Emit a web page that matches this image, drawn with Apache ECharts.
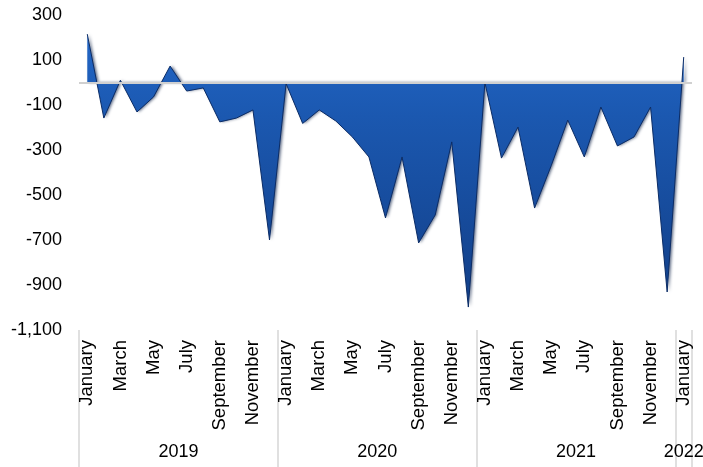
<!DOCTYPE html>
<html>
<head>
<meta charset="utf-8">
<script src="https://cdn.jsdelivr.net/npm/echarts@6/dist/echarts.min.js"></script>
<style>
    html, body { margin: 0; padding: 0; background: #fff; }
    #chart { width: 703px; height: 467px; }
</style>
</head>
<body>
<div id="chart"></div>
<script>
    // monthly values, one array per year
    let years = ['2019', '2020', '2021', '2022'];
    let monthNames = ['January', 'February', 'March', 'April', 'May', 'June',
        'July', 'August', 'September', 'October', 'November', 'December'];
    let values2019 = [215, -158, 10, -131, -64, 73, -38, -24, -175, -158, -122, -700];
    let values2020 = [-5, -182, -122, -171, -242, -331, -602, -331, -713, -589, -264, -998];
    let values2021 = [0, -336, -198, -558, -370, -167, -331, -109, -282, -242, -109, -931];
    let values2022 = [113];
    let yTicks = { min: -1100, max: 300, step: 200 };

    let perYear = [values2019, values2020, values2021, values2022];
    let months = [];
    let values = [];
    let yearCenters = [];
    let yearBounds = [0];
    let yearAt = {};
    let pos = 0;
    for (let i = 0; i < perYear.length; i++) {
        let c = pos + perYear[i].length / 2;
        yearCenters.push(c);
        yearAt[c] = years[i];
        for (let j = 0; j < perYear[i].length; j++) {
            months.push(monthNames[j]);
            values.push(perYear[i][j]);
        }
        pos += perYear[i].length;
        yearBounds.push(pos);
    }

    let font = 'Liberation Sans, Arial, sans-serif';
    let myChart = echarts.init(document.getElementById('chart'));
    myChart.setOption({
        backgroundColor: '#fff',
        animation: false,
        grid: { left: 79, right: 11, top: 15, bottom: 137, outerBoundsMode: 'none' },
        xAxis: [
            {
                type: 'category',
                data: months,
                boundaryGap: true,
                axisLine: { show: false },
                axisTick: { show: false },
                axisLabel: {
                    interval: 1,
                    rotate: 90,
                    margin: 10,
                    color: '#000',
                    fontSize: 18.5,
                    fontFamily: font
                }
            },
            {
                // year groups, separators drawn as ticks
                type: 'value',
                position: 'bottom',
                offset: 137,
                min: 0,
                max: months.length,
                axisLine: { show: false },
                splitLine: { show: false },
                axisTick: {
                    show: true,
                    inside: true,
                    length: 137,
                    customValues: yearBounds,
                    lineStyle: { color: '#d6d6d6', width: 1.5 }
                },
                axisLabel: {
                    inside: true,
                    margin: 6,
                    color: '#000',
                    fontSize: 18,
                    fontFamily: font,
                    customValues: yearCenters,
                    formatter: function (v) { return yearAt[v] || ''; }
                }
            }
        ],
        yAxis: {
            type: 'value',
            min: yTicks.min,
            max: yTicks.max,
            interval: yTicks.step,
            axisLine: { show: false },
            axisTick: { show: false },
            splitLine: { show: false },
            axisLabel: {
                margin: 17,
                color: '#000',
                fontSize: 18,
                fontFamily: font,
                formatter: function (v) { return v.toLocaleString('en-US'); }
            }
        },
        series: [
            {
                type: 'line',
                data: values,
                symbol: 'none',
                lineStyle: { color: '#0b2c66', width: 1 },
                areaStyle: {
                    origin: 0,
                    opacity: 1,
                    color: {
                        type: 'linear', x: 0, y: 0, x2: 0, y2: 1,
                        colorStops: [
                            { offset: 0, color: '#2266c6' },
                            { offset: 0.3, color: '#1b58b0' },
                            { offset: 1, color: '#123f88' }
                        ]
                    },
                    shadowBlur: 3,
                    shadowOffsetX: 2,
                    shadowColor: 'rgba(0,20,60,0.6)'
                },
                markLine: {
                    silent: true,
                    symbol: 'none',
                    label: { show: false },
                    lineStyle: { color: '#d0d0d0', width: 2, type: 'solid' },
                    data: [{ yAxis: 0 }]
                }
            }
        ]
    });
</script>
</body>
</html>
